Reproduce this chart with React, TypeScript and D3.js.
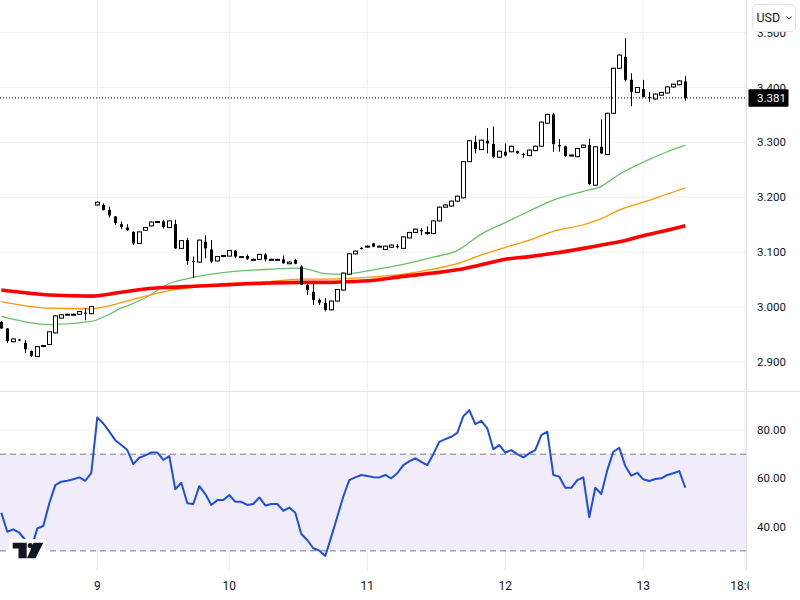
import React from 'react';
import * as d3 from 'd3';

// hourly candles
const opens = [2.973, 2.961, 2.937, 2.941, 2.935, 2.920, 2.910, 2.929, 2.932, 2.953, 2.980, 2.987, 2.986, 2.987, 2.990, 2.988,
  3.186, 3.186, 3.177, 3.165, 3.151, 3.145, 3.137, 3.116, 3.140, 3.148, 3.156, 3.156, 3.145, 3.151, 3.107, 3.122, 3.084, 3.082, 3.119, 3.105, 3.084, 3.093,
  3.093, 3.103, 3.092, 3.093, 3.087, 3.087, 3.096, 3.087, 3.087, 3.087, 3.079, 3.086, 3.074, 3.040, 3.028, 3.013, 3.008, 2.995, 3.011, 3.031, 3.060, 3.097, 3.108,
  3.110, 3.116, 3.111, 3.105, 3.109, 3.111, 3.107, 3.126, 3.136, 3.140, 3.134, 3.134, 3.157, 3.182, 3.184, 3.193, 3.199, 3.265, 3.301, 3.287, 3.303, 3.297, 3.273,
  3.283, 3.283, 3.284, 3.279, 3.276, 3.285, 3.293, 3.335, 3.351, 3.295, 3.293, 3.276, 3.274, 3.291, 3.295, 3.222, 3.292, 3.278, 3.353, 3.435, 3.456, 3.414, 3.391,
  3.397, 3.383, 3.379, 3.386, 3.390, 3.401, 3.405, 3.411];
const highs = [2.975, 2.962, 2.943, 2.942, 2.940, 2.921, 2.929, 2.931, 2.955, 2.985, 2.987, 2.988, 2.988, 2.993, 2.998, 3.002,
  3.192, 3.189, 3.183, 3.166, 3.156, 3.151, 3.138, 3.138, 3.146, 3.156, 3.157, 3.159, 3.158, 3.159, 3.122, 3.126, 3.092, 3.123, 3.131, 3.122, 3.093, 3.095,
  3.104, 3.104, 3.093, 3.096, 3.088, 3.097, 3.098, 3.088, 3.088, 3.094, 3.083, 3.088, 3.076, 3.043, 3.043, 3.016, 3.017, 3.012, 3.033, 3.063, 3.098, 3.103, 3.109,
  3.112, 3.117, 3.112, 3.112, 3.114, 3.115, 3.129, 3.137, 3.143, 3.144, 3.147, 3.158, 3.183, 3.187, 3.194, 3.203, 3.266, 3.304, 3.312, 3.305, 3.326, 3.329, 3.285,
  3.298, 3.294, 3.285, 3.281, 3.287, 3.294, 3.338, 3.352, 3.354, 3.306, 3.294, 3.278, 3.290, 3.296, 3.307, 3.293, 3.342, 3.354, 3.436, 3.460, 3.490, 3.426, 3.401,
  3.414, 3.392, 3.389, 3.392, 3.402, 3.407, 3.413, 3.421];
const lows = [2.960, 2.935, 2.936, 2.938, 2.916, 2.909, 2.909, 2.928, 2.931, 2.952, 2.979, 2.986, 2.985, 2.986, 2.976, 2.987,
  3.185, 3.176, 3.163, 3.150, 3.142, 3.139, 3.113, 3.115, 3.139, 3.147, 3.155, 3.143, 3.144, 3.106, 3.106, 3.077, 3.053, 3.081, 3.089, 3.080, 3.083, 3.092,
  3.092, 3.089, 3.091, 3.086, 3.086, 3.086, 3.083, 3.086, 3.086, 3.079, 3.078, 3.078, 3.040, 3.022, 3.004, 3.004, 2.992, 2.994, 3.010, 3.030, 3.059, 3.096, 3.105,
  3.109, 3.109, 3.110, 3.104, 3.108, 3.107, 3.106, 3.125, 3.135, 3.131, 3.131, 3.133, 3.156, 3.181, 3.183, 3.192, 3.198, 3.264, 3.280, 3.286, 3.280, 3.271, 3.272,
  3.274, 3.282, 3.279, 3.272, 3.275, 3.284, 3.292, 3.334, 3.283, 3.283, 3.274, 3.275, 3.273, 3.290, 3.222, 3.221, 3.279, 3.277, 3.352, 3.434, 3.411, 3.366, 3.390,
  3.382, 3.374, 3.378, 3.385, 3.389, 3.400, 3.404, 3.376];
const closes = [2.961, 2.938, 2.942, 2.940, 2.923, 2.911, 2.928, 2.930, 2.955, 2.984, 2.986, 2.987, 2.987, 2.992, 2.989, 3.001,
  3.191, 3.177, 3.167, 3.153, 3.146, 3.140, 3.116, 3.137, 3.145, 3.155, 3.156, 3.146, 3.157, 3.107, 3.121, 3.084, 3.082, 3.122, 3.107, 3.083, 3.092, 3.094,
  3.103, 3.092, 3.092, 3.088, 3.087, 3.096, 3.087, 3.087, 3.087, 3.080, 3.082, 3.079, 3.041, 3.031, 3.013, 3.008, 2.995, 3.011, 3.032, 3.062, 3.097, 3.102, 3.106,
  3.111, 3.110, 3.111, 3.111, 3.113, 3.110, 3.128, 3.136, 3.142, 3.139, 3.136, 3.157, 3.182, 3.186, 3.193, 3.202, 3.265, 3.303, 3.288, 3.304, 3.298, 3.274, 3.284,
  3.276, 3.293, 3.280, 3.278, 3.286, 3.293, 3.337, 3.351, 3.297, 3.293, 3.275, 3.277, 3.289, 3.295, 3.224, 3.292, 3.280, 3.353, 3.435, 3.459, 3.414, 3.392, 3.400,
  3.383, 3.382, 3.388, 3.391, 3.401, 3.406, 3.412, 3.381];

const rsi = [45.8, 37.9, 38.9, 37.5, 34.5, 31.0, 39.3, 40.3, 49.7, 57.2, 58.6, 59.0, 59.6, 60.4, 59.0, 62.3,
  85.2, 82.7, 79.3, 75.8, 73.8, 71.7, 65.9, 68.5, 69.5, 70.7, 70.7, 67.6, 69.2, 55.5, 58.2, 49.7, 49.4, 56.8, 53.5, 49.0, 51.0, 51.0,
  53.1, 50.3, 50.3, 49.0, 49.4, 52.1, 48.8, 49.4, 49.4, 46.6, 47.9, 45.8, 37.0, 34.5, 31.1, 30.1, 27.9, 35.9, 44.1, 52.5, 59.3, 60.4, 61.4,
  61.0, 60.5, 60.4, 61.4, 60.0, 62.1, 65.5, 67.0, 68.3, 66.8, 65.5, 70.0, 75.1, 76.2, 77.2, 78.8, 85.7, 88.2, 82.4, 83.8, 80.7, 72.0, 73.8,
  70.6, 71.7, 70.0, 68.7, 70.3, 71.7, 77.9, 79.3, 61.4, 60.7, 56.1, 56.1, 59.3, 60.4, 43.9, 56.1, 53.5, 63.4, 71.0, 72.6, 65.1, 61.1, 62.3,
  59.6, 58.9, 59.7, 60.0, 61.4, 62.1, 63.0, 56.1];

// moving averages, read at these candle indices
const maIdx = [0, 8, 15, 20, 24, 28, 32, 38, 45, 50, 54, 57, 62, 67, 72, 76, 80, 84, 88, 92, 97, 100, 103, 107, 111, 114];
const maSlow = [3.031, 3.022, 3.020, 3.027, 3.033, 3.036, 3.038, 3.041, 3.044, 3.045, 3.045, 3.046, 3.049, 3.056, 3.062, 3.068, 3.077, 3.087, 3.092, 3.098, 3.107, 3.113, 3.119, 3.130, 3.140, 3.148];
const maMid = [3.010, 2.998, 2.997, 3.008, 3.020, 3.030, 3.036, 3.043, 3.047, 3.051, 3.051, 3.052, 3.055, 3.060, 3.069, 3.079, 3.095, 3.109, 3.122, 3.138, 3.150, 3.161, 3.177, 3.191, 3.206, 3.217];
const maFast = [2.983, 2.968, 2.974, 2.998, 3.017, 3.043, 3.054, 3.064, 3.069, 3.071, 3.061, 3.060, 3.068, 3.078, 3.091, 3.103, 3.133, 3.154, 3.175, 3.195, 3.211, 3.220, 3.242, 3.264, 3.283, 3.295];

const dayIdx = [16, 38, 61, 84, 107, 124];
const dayLabels = ['9', '10', '11', '12', '13', '18:00'];
const priceTicks = [2.9, 3.0, 3.1, 3.2, 3.3, 3.4, 3.5];
const rsiTicks = [40, 60, 80];
const lastPrice = 3.381;

const GRID = '#eef0f3';
const TEXT = '#131722';
const PLOT_R = 746;

export default function App() {
  const x = d3.scaleLinear().domain([0, 114]).range([1.3, 685.3]);
  const y = d3.scaleLinear().domain([2.9, 3.4]).range([362, 87.5]);
  const yr = d3.scaleLinear().domain([40, 80]).range([526.7, 430]);

  const maLine = (vals: number[]) =>
    d3.line<number>().x((_, k) => x(maIdx[k])).y(v => y(v)).curve(d3.curveMonotoneX)(vals) || '';
  const rsiLine = d3.line<number>().x((_, k) => x(k)).y(v => yr(v))(rsi) || '';

  return (
    <svg width={800} height={600} style={{ position: 'absolute', left: 0, top: 0, background: '#fff' }}
      fontFamily="Roboto, 'Noto Sans', sans-serif">
      <defs>
        <clipPath id="main"><rect x={0} y={0} width={PLOT_R} height={391} /></clipPath>
        <clipPath id="lower"><rect x={0} y={392} width={PLOT_R} height={178} /></clipPath>
        <clipPath id="time"><rect x={0} y={571} width={749} height={29} /></clipPath>
      </defs>
      <rect width={800} height={600} fill="#fff" />

      {/* grid */}
      {priceTicks.map(p => (
        <line key={p} x1={0} x2={PLOT_R} y1={y(p)} y2={y(p)} stroke={GRID} />
      ))}
      {dayIdx.map(d => (
        <line key={d} x1={x(d)} x2={x(d)} y1={0} y2={570} stroke={GRID} />
      ))}

      {/* moving averages */}
      <g clipPath="url(#main)" fill="none">
        <path d={maLine(maFast)} stroke="#6abf69" strokeWidth={1.3} />
        <path d={maLine(maMid)} stroke="#ff9800" strokeWidth={1.3} />
        <path d={maLine(maSlow)} stroke="#ff0000" strokeWidth={3.6} />
      </g>

      {/* candles */}
      <g clipPath="url(#main)">
        {closes.map((c, i) => {
          const o = opens[i];
          const up = c >= o;
          const cx = Math.round(x(i)) + 0.5;
          const top = y(Math.max(o, c));
          const h = Math.max(1, y(Math.min(o, c)) - top);
          return (
            <g key={i}>
              <line x1={cx} x2={cx} y1={y(highs[i])} y2={y(lows[i])} stroke="#000" strokeWidth={1} />
              {up
                ? <rect x={cx - 2} y={top} width={4} height={h} fill="#fff" stroke="#000" strokeWidth={1} />
                : <rect x={cx - 1.5} y={top} width={3} height={h} fill="#000" />}
            </g>
          );
        })}
      </g>

      {/* last price line */}
      <line x1={0} x2={PLOT_R} y1={y(lastPrice)} y2={y(lastPrice)} stroke="#000" strokeDasharray="1 2" />

      {/* RSI pane */}
      <line x1={0} x2={800} y1={391.5} y2={391.5} stroke="#e0e3eb" />
      <g clipPath="url(#lower)">
        <rect x={0} y={yr(70)} width={PLOT_R} height={yr(30) - yr(70)} fill="#f0ecf9" />
        {rsiTicks.map(t => (
          <line key={t} x1={0} x2={PLOT_R} y1={yr(t)} y2={yr(t)} stroke={GRID} />
        ))}
        {dayIdx.map(d => (
          <line key={d} x1={x(d)} x2={x(d)} y1={392} y2={570} stroke={GRID} />
        ))}
        <line x1={0} x2={PLOT_R} y1={yr(70)} y2={yr(70)} stroke="#787b86" strokeDasharray="6 4" />
        <line x1={0} x2={PLOT_R} y1={yr(30)} y2={yr(30)} stroke="#787b86" strokeDasharray="6 4" />
        <path d={rsiLine} fill="none" stroke="#1f4fd8" strokeWidth={2} strokeLinejoin="round" />
      </g>

      {/* logo */}
      <rect x={9} y={539} width={37} height={22} fill="#fff" rx={2} />
      <path d="M12.7,542.7 H26.7 V558.3 H18.5 V548.5 H12.7 Z" fill="#131722" />
      <circle cx={30.3} cy={545.5} r={2.6} fill="#131722" />
      <path d="M33.5,542.7 H43.3 L35.5,558.3 H27 Z" fill="#131722" />

      {/* axes borders */}
      <line x1={PLOT_R + 0.5} x2={PLOT_R + 0.5} y1={0} y2={570} stroke="#e0e3eb" />

      {/* price axis */}
      {priceTicks.map(p => (
        <text key={p} x={757} y={y(p) + 4} fontSize={11.5} fill={TEXT}>{p.toFixed(3)}</text>
      ))}
      <rect x={748.5} y={y(lastPrice) - 8.8} width={40} height={17.5} fill="#000" rx={1} />
      <text x={757} y={y(lastPrice) + 4.2} fontSize={11.5} fill="#fff">{lastPrice.toFixed(3)}</text>

      {/* RSI axis */}
      {rsiTicks.map(t => (
        <text key={t} x={757} y={yr(t) + 4} fontSize={11.5} fill={TEXT}>{t.toFixed(2)}</text>
      ))}

      {/* time axis */}
      <g clipPath="url(#time)">
        {dayIdx.map((d, k) => (
          <text key={d} x={x(d)} y={590} fontSize={12} fill={TEXT} textAnchor="middle">{dayLabels[k]}</text>
        ))}
      </g>

      {/* currency button */}
      <rect x={752.5} y={4.5} width={43} height={27} rx={5} fill="#fff" stroke="#e0e3eb" />
      <text x={756.5} y={22} fontSize={12.5} fill={TEXT}>USD</text>
      <path d="M786.5,16.5 L789,19 L791.5,16.5" fill="none" stroke={TEXT} strokeWidth={1} />
    </svg>
  );
}
